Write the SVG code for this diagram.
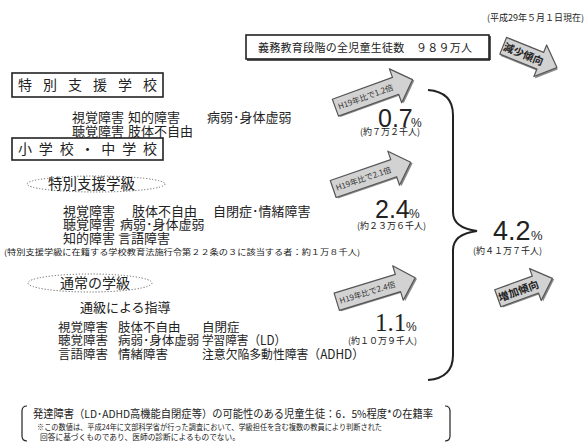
<svg xmlns="http://www.w3.org/2000/svg" width="588" height="443" viewBox="0 0 588 443">
<style>
text{font-family:"Noto Sans CJK JP","Noto Sans",sans-serif;fill:#222}
.t13{font-size:13px}
.t12{font-size:12.5px}
.sm{font-size:8px}
.num{font-size:9px}
.box{fill:#fff;stroke:#222;stroke-width:1.6}
.dot{fill:none;stroke:#666;stroke-width:1;stroke-dasharray:1.2 1.8}
.arr{fill:#d2d2d2;stroke:#555;stroke-width:1.2;stroke-linejoin:round}
.sh{fill:#8a8a8a;stroke:none}
.at{font-size:8px;fill:#333}
.big{font-family:"Liberation Sans","Noto Sans",sans-serif;font-size:25px}
.pct{font-family:"Liberation Sans","Noto Sans",sans-serif;font-size:12px}
.brk{fill:none;stroke:#222;stroke-width:1.2}
</style>
<defs>
<path id="arrow" d="M-40,-9 L24,-9 L24,-18 L42,0 L24,18 L24,9 L-40,9 Z"/>
<path id="arrowS" d="M-30,-9 L10,-9 L10,-17 L28,0 L10,17 L10,9 L-30,9 Z"/>
</defs>

<text x="584" y="21" text-anchor="end" style="font-size:9px">(平成29年５月１日現在)</text>

<g id="total">
<rect x="246" y="35" width="243" height="24" class="box"/>
<line x1="247" y1="60" x2="490" y2="60" stroke="#222" stroke-width="1.5"/>
<line x1="490" y1="36" x2="490" y2="60" stroke="#222" stroke-width="1.5"/>
<text x="258" y="52" style="font-size:11px" textLength="214" lengthAdjust="spacing">義務教育段階の全児童生徒数　９８９万人</text>
</g>

<g id="decrease">
<g transform="translate(531,57) rotate(22)">
<use href="#arrowS" class="sh" x="1.5" y="1.5"/>
<use href="#arrowS" class="arr"/>
<text x="-8" y="4" text-anchor="middle" style="font-size:10.5px;font-weight:bold">減少傾向</text>
</g>
</g>

<g id="school">
<rect x="12" y="73" width="151" height="24" class="box"/>
<text x="18" y="90" style="font-size:14px" textLength="139" lengthAdjust="spacing">特別支援学校</text>
<text x="72" y="122" class="t13">視覚障害</text>
<text x="128" y="122" class="t13">知的障害</text>
<text x="207" y="122" class="t13">病弱･身体虚弱</text>
<text x="72" y="136" class="t13">聴覚障害</text>
<text x="128" y="136" class="t13">肢体不自由</text>
</g>

<g id="elem">
<rect x="12" y="138" width="151" height="22" class="box"/>
<text x="18" y="154" style="font-size:14px" textLength="139" lengthAdjust="spacing">小学校・中学校</text>
</g>

<g id="class">
<ellipse cx="96" cy="184" rx="69" ry="8" class="dot"/>
<text x="48" y="189" style="font-size:14.5px">特別支援学級</text>
<text x="63" y="216" class="t13">視覚障害</text>
<text x="132" y="216" class="t13">肢体不自由</text>
<text x="213" y="216" class="t13">自閉症･情緒障害</text>
<text x="63" y="229" class="t13">聴覚障害</text>
<text x="120" y="229" class="t13">病弱･身体虚弱</text>
<text x="63" y="243" class="t13">知的障害</text>
<text x="118" y="243" class="t13">言語障害</text>
<text x="4" y="255" class="sm" textLength="356" lengthAdjust="spacingAndGlyphs">(特別支援学級に在籍する学校教育法施行令第２２条の３に該当する者：約１万８千人)</text>
</g>

<g id="regular">
<ellipse cx="90" cy="283" rx="62" ry="9" class="dot"/>
<text x="60" y="288" style="font-size:14px">通常の学級</text>
<text x="80" y="312" class="t13">通級による指導</text>
<text x="58" y="332" class="t12">視覚障害</text>
<text x="118" y="332" class="t12">肢体不自由</text>
<text x="202" y="332" class="t12">自閉症</text>
<text x="58" y="345" class="t12">聴覚障害</text>
<text x="118" y="345" class="t12">病弱･身体虚弱</text>
<text x="202" y="345" class="t12" textLength="84" lengthAdjust="spacingAndGlyphs">学習障害（LD）</text>
<text x="58" y="359" class="t12">言語障害</text>
<text x="118" y="359" class="t12">情緒障害</text>
<text x="202" y="359" class="t12" textLength="162" lengthAdjust="spacingAndGlyphs">注意欠陥多動性障害（ADHD）</text>
</g>

<g id="stat1">
<g transform="translate(373,94) rotate(-20)">
<use href="#arrow" class="sh" x="1.5" y="1.5"/>
<use href="#arrow" class="arr"/>
<text x="-8" y="3" text-anchor="middle" class="at">H19年比で1.2倍</text>
</g>
<text x="378" y="127" class="big">0.7</text>
<text x="411" y="127" class="pct">%</text>
<text x="360" y="135" class="num">(約７万２千人)</text>
</g>

<g id="stat2">
<g transform="translate(371,176) rotate(-19)">
<use href="#arrow" class="sh" x="1.5" y="1.5"/>
<use href="#arrow" class="arr"/>
<text x="-8" y="3" text-anchor="middle" class="at">H19年比で2.1倍</text>
</g>
<text x="375" y="218" class="big">2.4</text>
<text x="409" y="218" class="pct">%</text>
<text x="357" y="229" class="num">(約２３万６千人)</text>
</g>

<g id="stat3">
<g transform="translate(375,290) rotate(-17)">
<use href="#arrow" class="sh" x="1.5" y="1.5"/>
<use href="#arrow" class="arr"/>
<text x="-8" y="3" text-anchor="middle" class="at">H19年比で2.4倍</text>
</g>
<text x="375" y="331" style="font-family:'Liberation Serif',serif;font-size:25px">1.1</text>
<text x="406" y="331" class="pct">%</text>
<text x="348" y="344" class="num">(約１０万９千人)</text>
</g>

<g id="connectors">
<path d="M428,90 Q453,92 453,115 L453,212 Q453,228 477,231 Q453,234 453,250 L453,355 Q453,378 428,380" fill="none" stroke="#222" stroke-width="2"/>
</g>

<g id="total42">
<text x="493" y="240" class="big" style="font-size:27px">4.2</text>
<text x="531" y="240" class="pct" style="font-size:13px">%</text>
<text x="473" y="254" class="num">(約４１万７千人)</text>
</g>

<g id="increase">
<g transform="translate(526,288) rotate(-20)">
<use href="#arrowS" class="sh" x="1.5" y="1.5"/>
<use href="#arrowS" class="arr"/>
<text x="-8" y="4" text-anchor="middle" style="font-size:10.5px;font-weight:bold">増加傾向</text>
</g>
</g>

<g id="note">
<path class="brk" d="M27,406 Q22,406 22,411 L22,436 Q22,441 27,441"/>
<path class="brk" d="M445,406 Q450,406 450,411 L450,436 Q450,441 445,441"/>
<text x="33" y="418" style="font-size:11px" textLength="400" lengthAdjust="spacingAndGlyphs">発達障害（LD･ADHD高機能自閉症等）の可能性のある児童生徒：6．5%程度*の在籍率</text>
<text x="37" y="430" class="sm" textLength="345" lengthAdjust="spacingAndGlyphs">※この数値は、平成24年に文部科学省が行った調査において、学級担任を含む複数の教員により判断された</text>
<text x="40" y="440" class="sm" textLength="200" lengthAdjust="spacingAndGlyphs">回答に基づくものであり、医師の診断によるものでない。</text>
</g>
</svg>
